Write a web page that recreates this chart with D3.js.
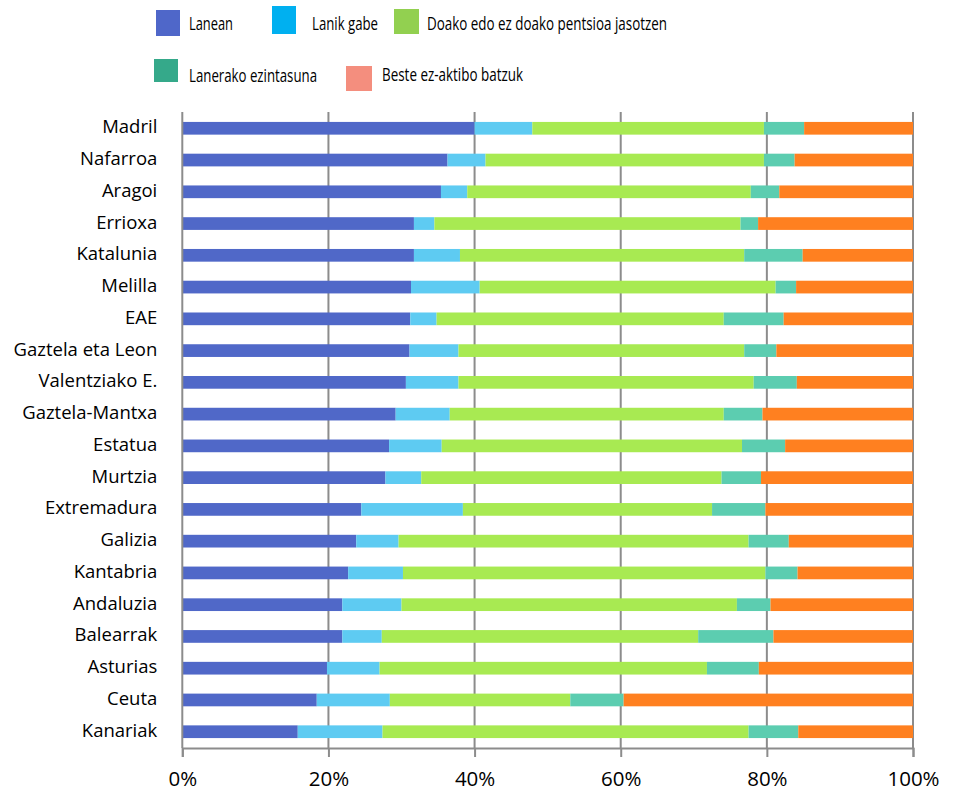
<!DOCTYPE html>
<html><head><meta charset="utf-8">
<script src="https://cdn.jsdelivr.net/npm/d3@7"></script>
<style>body{margin:0;background:#fff}svg{display:block}</style>
</head><body>
<svg id="c" width="955" height="791"></svg>
<script>
const categories = ["Madril","Nafarroa","Aragoi","Errioxa","Katalunia","Melilla","EAE","Gaztela eta Leon","Valentziako E.","Gaztela-Mantxa","Estatua","Murtzia","Extremadura","Galizia","Kantabria","Andaluzia","Balearrak","Asturias","Ceuta","Kanariak"];
const seriesNames = ["Lanean","Lanik gabe","Doako edo ez doako pentsioa jasotzen","Lanerako ezintasuna","Beste ez-aktibo batzuk"];
const lanean      = [40.0,36.3,35.4,31.7,31.7,31.3,31.2,31.1,30.6,29.2,28.3,27.8,24.5,23.8,22.7,21.9,21.9,19.8,18.4,15.8];
const lanikGabe   = [7.9,5.2,3.6,2.8,6.3,9.4,3.6,6.7,7.2,7.4,7.2,4.9,13.9,5.8,7.5,8.1,5.4,7.2,10.0,11.6];
const pentsioa    = [31.7,38.1,38.8,41.9,38.9,40.5,39.3,39.1,40.4,37.5,41.1,41.1,34.1,47.9,49.6,45.9,43.3,44.8,24.7,50.1];
const ezintasuna  = [5.5,4.2,3.9,2.4,8.0,2.8,8.2,4.4,5.9,5.3,5.9,5.4,7.3,5.5,4.4,4.6,10.3,7.1,7.3,6.8];
const besteak     = [14.9,16.2,18.3,21.2,15.1,16.0,17.7,18.7,15.9,20.6,17.5,20.8,20.2,17.0,15.8,19.5,19.1,21.1,39.6,15.7];
const xTicks = [0,20,40,60,80,100];
const tickLabels = ["0%","20%","40%","60%","80%","100%"];

const barColors = ["#5068c8","#5ecbf2","#a8ea52","#5ccdb0","#ff8020"];
const legendColors = ["#4f67c9","#00b0f0","#92d050","#35a98a","#f48e7e"];

const rows = categories.map((c,i)=>({cat:c, Lanean:lanean[i], "Lanik gabe":lanikGabe[i],
  "Doako edo ez doako pentsioa jasotzen":pentsioa[i], "Lanerako ezintasuna":ezintasuna[i], "Beste ez-aktibo batzuk":besteak[i]}));
rows.forEach(r=>{const s=d3.sum(seriesNames,k=>r[k]); seriesNames.forEach(k=>r[k]=r[k]/s*100);});

const svg = d3.select("#c");
const font = "'Open Sans', sans-serif";
const x = d3.scaleLinear().domain([0,100]).range([182.3,913]);
const y = d3.scaleBand().domain(categories).range([112.4,747.6]).paddingInner(0.6).paddingOuter(0.3);

svg.append("g").selectAll("line").data(xTicks.slice(1)).join("line")
  .attr("x1",d=>x(d)).attr("x2",d=>x(d)).attr("y1",112).attr("y2",748)
  .attr("stroke","#8c8c8c").attr("stroke-width",2);

const stack = d3.stack().keys(seriesNames)(rows);
svg.append("g").selectAll("g").data(stack).join("g")
  .attr("fill",(d,i)=>barColors[i])
  .selectAll("rect").data(d=>d).join("rect")
  .attr("x",d=>x(d[0])).attr("width",d=>x(d[1])-x(d[0]))
  .attr("y",d=>y(d.data.cat)).attr("height",y.bandwidth());

svg.append("line").attr("x1",x(0)).attr("x2",x(0)).attr("y1",112).attr("y2",748)
  .attr("stroke","#8c8c8c").attr("stroke-width",2);

const xAxis = d3.axisBottom(x).tickValues(xTicks).tickSize(9).tickFormat((d,i)=>tickLabels[i]);
const gx = svg.append("g").attr("transform","translate(0,748)").call(xAxis);
gx.select(".domain").attr("stroke","#8c8c8c").attr("stroke-width",2);
gx.selectAll(".tick line").attr("stroke","#8c8c8c").attr("stroke-width",2);
gx.selectAll(".tick text").attr("font-family",font).attr("font-size",20.5).attr("fill","#000")
  .attr("y",0).attr("dy",0).attr("transform","translate(0,38)").attr("dominant-baseline","alphabetic");

const yAxis = d3.axisLeft(y).tickSize(0).tickPadding(25);
const gy = svg.append("g").attr("transform",`translate(${x(0)},0)`).call(yAxis);
gy.select(".domain").remove();
gy.selectAll(".tick text").attr("font-family",font).attr("font-size",18.5).attr("fill","#000").attr("dy","0.27em");

const legendItems = [
  {sx:156,sy:10,w:24,h:26,tx:189,ty:30,tw:44},
  {sx:272,sy:6,w:24,h:28,tx:312,ty:30,tw:66},
  {sx:394,sy:9,w:25,h:25,tx:427,ty:30,tw:240},
  {sx:154,sy:59,w:24,h:23,tx:189,ty:82,tw:128},
  {sx:346,sy:66,w:26,h:25,tx:382,ty:81,tw:141}
];
const lg = svg.append("g");
legendItems.forEach((p,i)=>{
  lg.append("rect").attr("x",p.sx).attr("y",p.sy).attr("width",p.w).attr("height",p.h).attr("fill",legendColors[i]);
  lg.append("text").attr("x",p.tx).attr("y",p.ty).attr("font-family",font).attr("font-size",18).attr("fill","#000")
    .attr("textLength",p.tw).attr("lengthAdjust","spacingAndGlyphs").text(seriesNames[i]);
});
</script>
</body></html>
